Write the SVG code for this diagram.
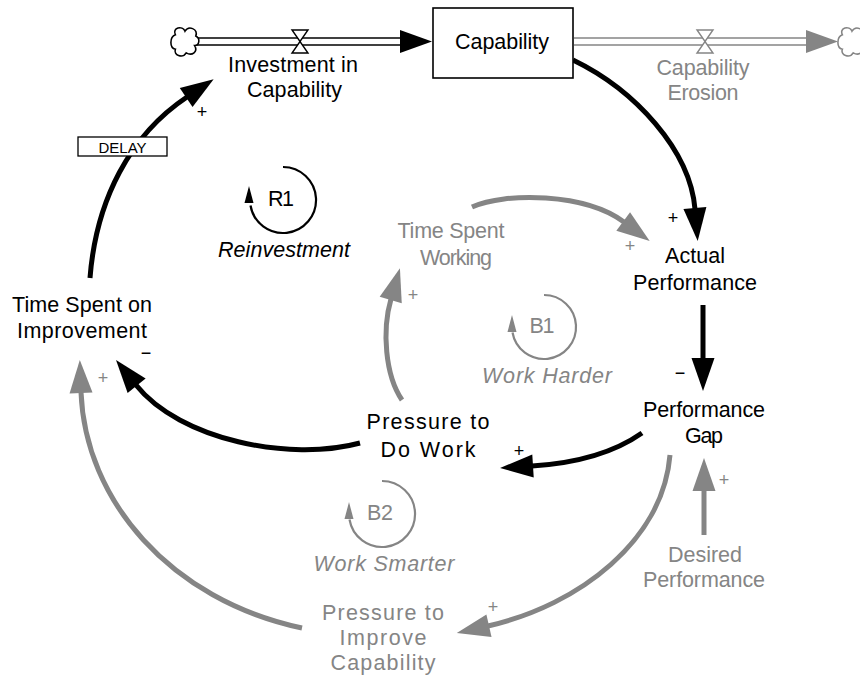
<svg xmlns="http://www.w3.org/2000/svg" width="860" height="678" viewBox="0 0 860 678">
<defs>
<style>
text{font-family:"Liberation Sans",Arial,sans-serif;font-size:21.5px;text-anchor:middle}
.k{fill:#000}
.g{fill:#858585}
.it{font-style:italic}
.sg{font-size:18px}
.lk{fill:none;stroke:#000;stroke-width:5}
.lg{fill:none;stroke:#858585;stroke-width:5}
.loopk{fill:none;stroke:#000;stroke-width:2.2}
.loopg{fill:none;stroke:#858585;stroke-width:2.2}
.pipek{stroke:#000;stroke-width:1.5}
.pipeg{stroke:#858585;stroke-width:1.5}
</style>
<marker id="ak" markerUnits="userSpaceOnUse" markerWidth="36" markerHeight="26" refX="1" refY="11.5" orient="auto" overflow="visible">
<path d="M0,0 L33,11.5 L0,23 Z" fill="#000"/>
</marker>
<marker id="ag" markerUnits="userSpaceOnUse" markerWidth="36" markerHeight="26" refX="1" refY="11.5" orient="auto" overflow="visible">
<path d="M0,0 L33,11.5 L0,23 Z" fill="#858585"/>
</marker>
<path id="cloud" d="M-8,-6 C-11,-12 -2,-14 0,-9 C3,-14 11,-11 9,-5 C13,-3 12,3 8,3 C11,8 6,12 1,9 C-2,14 -10,11 -8,6 C-13,5 -13,-4 -8,-6 Z"/>
</defs>
<rect width="860" height="678" fill="#fff"/>

<g id="connectors">
<path class="lk" d="M573,60 C635,90 690,150 695,209" marker-end="url(#ak)"/>
<path class="lg" d="M472,207 C505,192 585,193 624,222" marker-end="url(#ag)"/>
<path class="lk" d="M703,305 L703,359" marker-end="url(#ak)"/>
<path class="lg" d="M704,535 L704,490" marker-end="url(#ag)"/>
<path class="lk" d="M642,433 C615,452 580,463 532,466" marker-end="url(#ak)"/>
<path class="lg" d="M402,400 C385,375 382,330 391,299" marker-end="url(#ag)"/>
<path class="lk" d="M360,443 C290,462 180,440 136,385" marker-end="url(#ak)"/>
<path class="lg" d="M302,628 C170,600 85,500 81,392" marker-end="url(#ag)"/>
<path class="lg" d="M670,455 C663,540 580,605 488,626" marker-end="url(#ag)"/>
<path class="lk" d="M90,278 C96,200 130,135 187,97" marker-end="url(#ak)"/>
</g>

<g id="delay">
<rect x="78" y="137" width="89" height="19" fill="#fff" stroke="#000" stroke-width="1.3"/>
<text x="122.5" y="153" class="k" style="font-size:15px">DELAY</text>
</g>

<g id="signs">
<text class="k sg" x="202" y="118">+</text>
<text class="k sg" x="673" y="224">+</text>
<text class="k sg" x="519" y="457">+</text>
<text class="k sg" x="146" y="359">−</text>
<text class="k sg" x="680" y="379">−</text>
<text class="g sg" x="630" y="252">+</text>
<text class="g sg" x="413" y="301">+</text>
<text class="g sg" x="103" y="384">+</text>
<text class="g sg" x="724" y="486">+</text>
<text class="g sg" x="493" y="613">+</text>
</g>

<g id="investment-flow">
<line class="pipek" x1="196" y1="38" x2="401" y2="38"/>
<line class="pipek" x1="196" y1="45" x2="401" y2="45"/>
<path d="M400,30 L432,41.5 L400,53 Z" fill="#000"/>
<path d="M292,30 L308,30 L300,41.5 Z M292,53 L308,53 L300,41.5 Z" fill="#fff" stroke="#000" stroke-width="1.4"/>
<use href="#cloud" transform="translate(185,42) scale(1.2)" fill="#fff" stroke="#000" stroke-width="1.3"/>
<text class="k" x="293" y="72" textLength="130">Investment in</text>
<text class="k" x="294.5" y="97" textLength="95">Capability</text>
</g>

<g id="capability">
<rect x="433" y="8" width="140" height="70" fill="#fff" stroke="#000" stroke-width="1.6"/>
<text class="k" x="502" y="49" textLength="94">Capability</text>
</g>

<g id="erosion-flow">
<line class="pipeg" x1="574" y1="38" x2="807" y2="38"/>
<line class="pipeg" x1="574" y1="45" x2="807" y2="45"/>
<path d="M806,30 L838,41.5 L806,53 Z" fill="#858585"/>
<path d="M697,30 L713,30 L705,41.5 Z M697,53 L713,53 L705,41.5 Z" fill="#fff" stroke="#858585" stroke-width="1.4"/>
<use href="#cloud" transform="translate(852,42) scale(1.2)" fill="#fff" stroke="#858585" stroke-width="1.3"/>
<text class="g" x="703" y="75" textLength="93">Capability</text>
<text class="g" x="703" y="100" textLength="71">Erosion</text>
</g>

<g id="actual-performance">
<text class="k" x="695" y="263" textLength="60">Actual</text>
<text class="k" x="695" y="290" textLength="124">Performance</text>
</g>

<g id="performance-gap">
<text class="k" x="704" y="417" textLength="122">Performance</text>
<text class="k" x="704" y="443" textLength="38">Gap</text>
</g>

<g id="desired-performance">
<text class="g" x="705" y="562" textLength="74">Desired</text>
<text class="g" x="704" y="587" textLength="122">Performance</text>
</g>

<g id="time-spent-working">
<text class="g" x="451" y="238" textLength="107">Time Spent</text>
<text class="g" x="456" y="265" textLength="72">Working</text>
</g>

<g id="pressure-do-work">
<text class="k" x="428" y="429" textLength="123">Pressure to</text>
<text class="k" x="428" y="457" textLength="95">Do Work</text>
</g>

<g id="time-spent-improvement">
<text class="k" x="82" y="312" textLength="140">Time Spent on</text>
<text class="k" x="82" y="338" textLength="130">Improvement</text>
</g>

<g id="pressure-improve">
<text class="g" x="383" y="620" textLength="122">Pressure to</text>
<text class="g" x="383" y="645" textLength="87">Improve</text>
<text class="g" x="383" y="670" textLength="105">Capability</text>
</g>

<g id="loop-R1">
<path class="loopk" d="M283,167 A33,33 0 1 1 250.5,205.5"/>
<path d="M249,186 L244.5,203 L253.5,203 Z" fill="#000"/>
<text class="k" x="281" y="206" textLength="26">R1</text>
<text class="k it" x="284" y="257" textLength="132">Reinvestment</text>
</g>

<g id="loop-B1">
<path class="loopg" d="M544,295 A32,32 0 1 1 512.5,332.5"/>
<path d="M512,315 L507.5,332 L516.5,332 Z" fill="#858585"/>
<text class="g" x="542" y="333" textLength="25">B1</text>
<text class="g it" x="547" y="383" textLength="130">Work Harder</text>
</g>

<g id="loop-B2">
<path class="loopg" d="M382,481 A33,33 0 1 1 349.5,519.5"/>
<path d="M349,502 L344.5,519 L353.5,519 Z" fill="#858585"/>
<text class="g" x="380" y="520" textLength="26">B2</text>
<text class="g it" x="384" y="571" textLength="141">Work Smarter</text>
</g>
</svg>
